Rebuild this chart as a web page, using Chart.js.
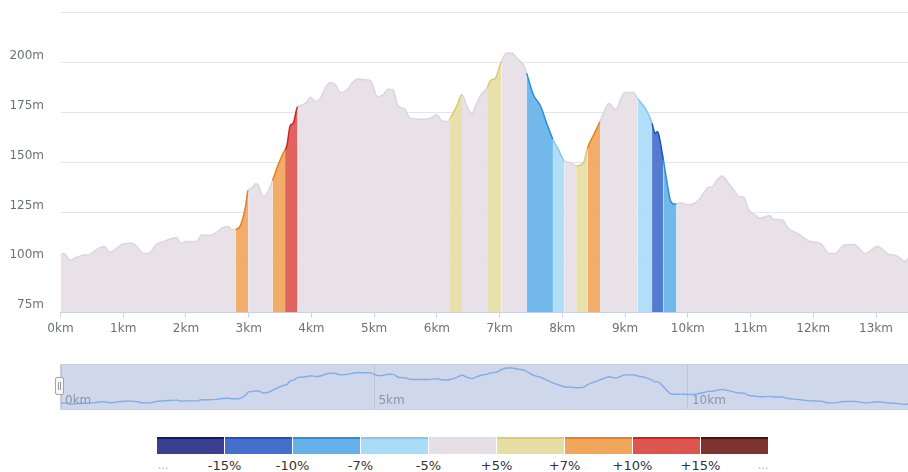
<!DOCTYPE html>
<html>
<head>
<meta charset="utf-8">
<script src="https://cdn.jsdelivr.net/npm/chart.js@4.4.1/dist/chart.umd.min.js"></script>
<style>
body{margin:0;background:#fff;font-family:"DejaVu Sans",sans-serif;}
#wrap{position:relative;width:908px;height:472px;overflow:hidden;}
#profile{position:absolute;left:0;top:0;}
#zoomBox{position:absolute;left:60px;top:364px;width:848px;height:46px;box-sizing:border-box;background:#cfd7ea;border:1px solid #c9cfdd;border-right:none;}
#overview{position:absolute;left:0;top:0;}
#handle{position:absolute;left:55px;top:377px;width:9px;height:18px;box-sizing:border-box;background:#f7f7f7;border:1px solid #a4a4a4;border-radius:2px;}
#handle span{position:absolute;left:2px;top:4px;width:1px;height:8px;border-left:1px solid #999;border-right:1px solid #999;}
#legend{position:absolute;left:157px;top:437px;height:17px;}
.cell{position:absolute;top:0;width:67px;height:17px;box-sizing:border-box;border-top:2px solid;}
.lab{position:absolute;top:458px;font-size:13px;color:#333;transform:translateX(-50%);white-space:nowrap;}
.dots{color:#aaa;font-size:11px;top:459px;}
</style>
</head>
<body>
<div id="wrap">
  <canvas id="profile" width="908" height="345"></canvas>
  <div id="zoomBox"><canvas id="overview" width="847" height="44"></canvas></div>
  <div id="handle"><span></span></div>
  <div id="legend"></div>
</div>
<script>
// distance (km) and elevation (m)
var km = [0.00,0.05,0.10,0.15,0.25,0.35,0.47,0.58,0.69,0.79,0.87,1.00,1.13,1.21,1.32,1.40,1.53,1.64,1.74,1.85,1.91,2.01,2.17,2.25,2.36,2.47,2.57,2.68,2.73,2.79,2.87,2.95,2.99,3.05,3.11,3.15,3.23,3.31,3.38,3.47,3.54,3.58,3.61,3.66,3.71,3.78,3.82,3.91,3.99,4.06,4.14,4.22,4.30,4.38,4.46,4.57,4.67,4.75,4.83,4.94,5.05,5.14,5.22,5.30,5.38,5.49,5.57,5.68,5.78,5.89,6.00,6.07,6.16,6.21,6.32,6.40,6.48,6.56,6.61,6.72,6.80,6.85,6.93,7.03,7.11,7.19,7.30,7.38,7.43,7.54,7.65,7.75,7.85,7.94,8.03,8.13,8.22,8.34,8.40,8.50,8.60,8.69,8.74,8.85,8.96,9.01,9.13,9.20,9.32,9.40,9.43,9.48,9.51,9.53,9.61,9.67,9.72,9.78,9.82,9.88,10.01,10.15,10.25,10.33,10.39,10.47,10.55,10.63,10.73,10.82,10.89,10.97,11.07,11.15,11.31,11.36,11.50,11.60,11.74,11.84,11.95,12.11,12.25,12.35,12.49,12.65,12.83,13.02,13.20,13.33,13.47,13.51];
var elevation = [103.5,104.5,103,101,102.5,103.5,104,106.5,108,105,106.5,109.2,109.6,108.2,104.5,104.5,109,110.4,111.6,112.4,109.6,110.4,110.4,113.7,113.4,114.6,117.1,117.9,116.3,116.5,118.5,128,136,137.2,139.3,138.8,132.9,135.4,141,148.8,154,156.3,158.5,168.3,169.7,178,178.4,179.7,182.7,180.5,182,187.2,190,188.9,185,186.4,190.5,191.9,191.4,191,183,183.8,186.7,186.4,178.4,176.7,172.2,171.7,171.7,172.2,173.9,171,170.5,172,178.5,184,178,174.3,178,184.7,187.2,190.9,192.2,200.6,204.8,204.8,201.4,198.9,194.7,183.8,178.4,169.7,161.5,156.3,150.8,150,148.3,150,157.1,163.9,170.5,177.2,179.7,176.4,183.8,185,185,182,177.2,172.2,169.5,164.6,165.4,164.6,151.3,139.6,131.2,129.2,129.2,129.9,128.7,130.4,134.6,137.6,137.9,141.3,143.3,140.4,136.3,132.9,132.6,126.3,123.8,122.1,123.3,121.6,121.3,117.1,114.6,112.5,110.4,109.6,104.5,104.5,108.7,109,104.5,107.9,104.1,103.2,100.4,102];

// steep stretches: start km, end km, grade %
var bandStart = [2.79,3.38,3.58,6.21,6.80,7.43,7.85,8.22,8.40,9.20,9.43,9.61];
var bandEnd   = [2.99,3.58,3.78,6.40,7.03,7.85,8.03,8.40,8.60,9.43,9.61,9.82];
var bandGrade = [9,8,12,6,6,-8.5,-6,6,8.5,-6,-12,-8.5];

// grade class limits shown in the colour legend
var gradeSteps = [-15,-10,-7,-5,5,7,10,15];

var areaColors = ['#3a3f8f','#4470cc','#66b2e8','#aadcf8','#e6e0e6','#e6dea4','#f0a65c','#dc5650','#7f3232'];
var lineColors = ['#121a78','#1f4fc4','#2a8ee0','#80c8f2','#ddd5de','#d8cc72','#e8801c','#d42020','#5a0a0a'];

function gradeClass(g){
	var c = 0;
	gradeSteps.forEach(function(s){ if(g >= s) c++; });
	return c;
}
function classAt(x){
	for(var i=0;i<bandStart.length;i++){
		if(x > bandStart[i] && x < bandEnd[i]) return gradeClass(bandGrade[i]);
	}
	return 4;
}
function fade(hex, a){
	var n = parseInt(hex.slice(1),16);
	return 'rgba('+(n>>16)+','+((n>>8)&255)+','+(n&255)+','+a+')';
}

var points = km.map(function(k,i){ return {x:k, y:elevation[i]}; });
var kmEnd = km[km.length-1];
var font = {family:'DejaVu Sans', size:12};

/* main elevation profile */
new Chart(document.getElementById('profile'), {
	type: 'line',
	data: { datasets: [{
		data: points,
		fill: 'start',
		pointRadius: 0,
		borderWidth: 1.5,
		cubicInterpolationMode: 'monotone',
		segment: {
			borderColor: function(c){ return lineColors[classAt((c.p0.parsed.x + c.p1.parsed.x)/2)]; },
			backgroundColor: function(c){ return fade(areaColors[classAt((c.p0.parsed.x + c.p1.parsed.x)/2)], 0.92); }
		}
	}]},
	options: {
		responsive: false,
		animation: false,
		layout: {padding: {top: 12.7, right: 0, bottom: 0, left: 0}},
		plugins: {legend: {display: false}, tooltip: {enabled: false}},
		scales: {
			x: {
				type: 'linear', min: 0, max: kmEnd,
				afterFit: function(s){ s.height = 32.7; s.paddingLeft = 0; s.paddingRight = 0; },
				grid: {drawOnChartArea: false, drawTicks: true, tickLength: 5, color: '#c8d1e8'},
				border: {color: '#c8d1e8'},
				ticks: {stepSize: 1, includeBounds: false, padding: 4, color: '#6e7079', font: font, maxRotation: 0, autoSkip: false,
					callback: function(v){ return v + 'km'; }}
			},
			y: {
				min: 75, max: 225,
				afterFit: function(s){ s.width = 60.5; s.paddingTop = 0; s.paddingBottom = 0; },
				grid: {color: '#e0e6f1', drawTicks: false},
				border: {display: false},
				ticks: {stepSize: 25, padding: 16.5, labelOffset: -7, color: '#6e7079', font: font,
					callback: function(v){ return v === 225 ? '' : v + 'm'; }}
			}
		}
	}
});

/* overview strip of the slider */
var overviewLabels = {
	id: 'overviewLabels',
	afterDraw: function(chart){
		var xs = chart.scales.x, ctx = chart.ctx;
		ctx.save();
		ctx.font = '12px "DejaVu Sans"';
		ctx.fillStyle = '#8c95a8';
		ctx.textBaseline = 'middle';
		xs.ticks.forEach(function(t){
			ctx.fillText(t.value + 'km', xs.getPixelForValue(t.value) + 4, chart.chartArea.bottom - 8);
		});
		ctx.restore();
	}
};
new Chart(document.getElementById('overview'), {
	type: 'line',
	data: { datasets: [{
		data: points,
		fill: false,
		pointRadius: 0,
		borderWidth: 1.4,
		borderColor: '#84ace4',
		cubicInterpolationMode: 'monotone'
	}]},
	options: {
		responsive: false,
		animation: false,
		layout: {padding: 0},
		plugins: {legend: {display: false}, tooltip: {enabled: false}},
		scales: {
			x: {type: 'linear', min: 0, max: kmEnd,
				grid: {color: '#bcc4d6', drawTicks: false},
				border: {display: false},
				ticks: {display: false, stepSize: 5, includeBounds: false}},
			y: {display: false, min: 87, max: 213.5}
		}
	},
	plugins: [overviewLabels]
});

/* grade colour legend */
var legend = document.getElementById('legend');
var wrap = document.getElementById('wrap');
areaColors.forEach(function(c,i){
	var d = document.createElement('div');
	d.className = 'cell';
	d.style.left = (i*68) + 'px';
	d.style.background = c;
	d.style.borderTopColor = i === 4 ? '#e2dbe2' : lineColors[i];
	legend.appendChild(d);
});
function addLabel(text, x, cls){
	var s = document.createElement('div');
	s.className = 'lab' + (cls ? ' ' + cls : '');
	s.style.left = x + 'px';
	s.textContent = text;
	wrap.appendChild(s);
}
addLabel('...', 163, 'dots');
gradeSteps.forEach(function(v,i){
	addLabel((v > 0 ? '+' : '') + v + '%', 157 + (i+1)*68 - 0.5);
});
addLabel('...', 763, 'dots');
</script>
</body>
</html>
